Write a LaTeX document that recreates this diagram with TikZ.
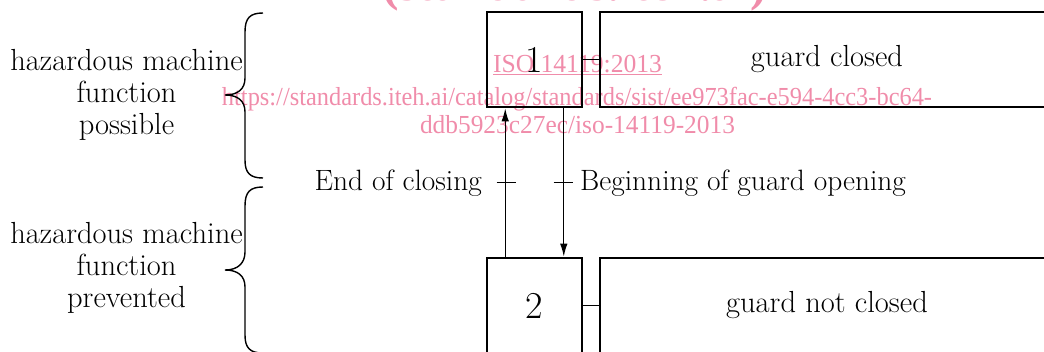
\documentclass[tikz,border=0pt]{standalone}
\usepackage{fontspec}
\usepackage{graphicx}
\newfontfamily\wmfont{Liberation Serif}
\usetikzlibrary{arrows.meta,calc}
\definecolor{wm}{RGB}{240,140,170}
\tikzset{
 stepbox/.style={draw, line width=2.6pt, minimum width=95pt, minimum height=95pt, inner sep=0pt, font=\fontsize{38}{38}\selectfont},
 actbox/.style={draw, line width=2.6pt, minimum width=454pt, minimum height=95pt, inner sep=0pt, font=\fontsize{30.5}{32}\selectfont},
 lbl/.style={inner sep=0pt, font=\fontsize{29.4}{32}\selectfont},
 side/.style={inner sep=0pt, align=center, font=\fontsize{30.5}{32.3}\selectfont},
 wmtext/.style={inner sep=0pt, text=wm, font=\wmfont\fontsize{26}{28}\selectfont},
 link/.style={line width=1.4pt},
 flow/.style={line width=1.4pt, -{Latex[length=13pt,width=7.5pt]}},
 tickmark/.style={line width=1.4pt},
 bracestyle/.style={line width=1.4pt},
}
\begin{document}
\begin{tikzpicture}[x=1pt,y=-1pt]
\useasboundingbox (0,0) rectangle (1044,351);
\clip (0,0) rectangle (1044,351);
% watermark (behind)
\node[wmtext, anchor=base, font=\wmfont\bfseries\fontsize{50}{50}\selectfont] (wm0) at (574.5,0.5) {\resizebox{385pt}{\height}{(standards.iteh.ai)}};
\node[wmtext, anchor=base] (wm1) at (577.5,72) {\resizebox{169pt}{\height}{\underline{ISO 14119:2013}}};
\node[wmtext, anchor=base] (wm2) at (577,105) {\resizebox{710pt}{\height}{https://standards.iteh.ai/catalog/standards/sist/ee973fac-e594-4cc3-bc64-}};
\node[wmtext, anchor=base] (wm3) at (577.5,133) {\resizebox{315pt}{\height}{ddb5923c27ec/iso-14119-2013}};
% steps and actions
\node[stepbox] (s1) at (534.5,59.5) {1};
\node[stepbox] (s2) at (534.5,305.5) {2};
\node[actbox] (g1) at (827,59.5) {guard closed};
\node[actbox] (g2) at (827,305.5) {guard not closed};
\draw[link] (s1.east) -- (g1.west);
\draw[link] (s2.east) -- (g2.west);
% flows
\coordinate (upx) at ($(s1.south west)!0.2!(s1.south east)$);
\coordinate (dnx) at ($(s1.south west)!0.8!(s1.south east)$);
\draw[flow] (s2.north -| upx) -- (upx);
\draw[flow] (dnx) -- (s2.north -| dnx);
% transitions
\coordinate (tr1) at (506,182.7);
\coordinate (tr2) at (563,182.7);
\draw[tickmark] ($(tr1)+(-9.5,0)$) -- ($(tr1)+(9.5,0)$);
\draw[tickmark] ($(tr2)+(-9.5,0)$) -- ($(tr2)+(9.5,0)$);
\node[lbl, anchor=base east] (e1) at (482,190) {End of closing};
\node[lbl, anchor=base west] (e2) at (580,190) {Beginning of guard opening};
% braces
\draw[bracestyle] (263,13) .. controls (250,13) and (245,18) .. (245,32)
  -- (245,78) .. controls (245,89) and (238,95) .. (225,95)
  .. controls (238,95) and (245,101) .. (245,112)
  -- (245,160) .. controls (245,173) and (250,178) .. (263,178);
\draw[bracestyle] (263,187) .. controls (250,187) and (245,192) .. (245,206)
  -- (245,252) .. controls (245,263) and (238,270) .. (225,270)
  .. controls (238,270) and (245,276) .. (245,287)
  -- (245,335) .. controls (245,348) and (250,353) .. (263,353);
\node[side] (h1) at (126.5,95) {hazardous machine\\function\\possible};
\node[side] (h2) at (126.5,268) {hazardous machine\\function\\prevented};
\end{tikzpicture}
\end{document}
